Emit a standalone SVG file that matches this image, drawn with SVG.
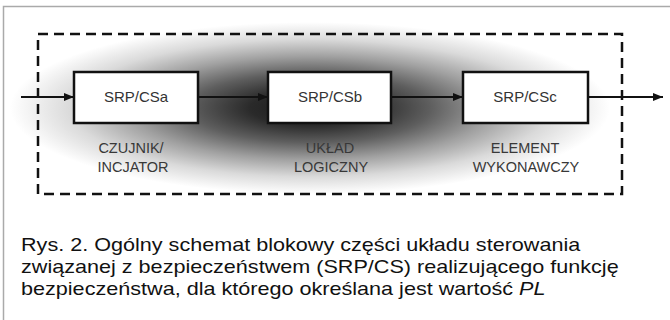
<svg xmlns="http://www.w3.org/2000/svg" width="670" height="320" viewBox="0 0 670 320">
<style>
.box{fill:#fff;stroke:#111;stroke-width:2.5}
.bl{font-family:"Liberation Sans",Arial,sans-serif;font-size:15px;fill:#333;text-anchor:middle}
.sl{font-family:"Liberation Sans",Arial,sans-serif;font-size:14.5px;fill:#383838;text-anchor:middle}
.cap{font-family:"Liberation Sans",Arial,sans-serif;font-size:18px;fill:#111}
.conn{stroke:#111;stroke-width:2;fill:none}
</style>
<defs>
<radialGradient id="sh" cx="310" cy="108" r="1" gradientUnits="userSpaceOnUse" gradientTransform="translate(310 108) scale(300 86) translate(-310 -108)">
<stop offset="0" stop-color="#181818"/>
<stop offset="0.2" stop-color="#2a2a2a"/>
<stop offset="0.4" stop-color="#5e5e5e"/>
<stop offset="0.6" stop-color="#a0a0a0"/>
<stop offset="0.8" stop-color="#dadada"/>
<stop offset="1" stop-color="#fff"/>
</radialGradient>
<marker id="ah" viewBox="0 0 10 8" refX="10" refY="4" markerWidth="10" markerHeight="8" markerUnits="userSpaceOnUse" orient="auto">
<path d="M0,0 L10,4 L0,8 Z" fill="#111"/>
</marker>
</defs>
<rect width="670" height="320" fill="#fff"/>
<path d="M3.5,320 V6.5 H670" fill="none" stroke="#aaa" stroke-width="1.5"/>
<ellipse cx="310" cy="108" rx="300" ry="86" fill="url(#sh)"/>
<rect x="38" y="34" width="584" height="160" fill="none" stroke="#111" stroke-width="2.5" stroke-dasharray="10 6"/>
<g id="connectors">
<line class="conn" x1="21" y1="97" x2="74" y2="97" marker-end="url(#ah)"/>
<line class="conn" x1="198" y1="97" x2="268" y2="97" marker-end="url(#ah)"/>
<line class="conn" x1="391" y1="97" x2="463" y2="97" marker-end="url(#ah)"/>
<line class="conn" x1="588" y1="97" x2="663" y2="97" marker-end="url(#ah)"/>
</g>
<g id="srpcsa">
<rect class="box" x="74" y="72" width="124" height="51"/>
<text class="bl" x="136" y="102">SRP/CSa</text>
<text class="sl" x="131" y="153">CZUJNIK/</text>
<text class="sl" x="133" y="172">INCJATOR</text>
</g>
<g id="srpcsb">
<rect class="box" x="268" y="72" width="123" height="51"/>
<text class="bl" x="330" y="102">SRP/CSb</text>
<text class="sl" x="330" y="153">UKŁAD</text>
<text class="sl" x="331" y="172">LOGICZNY</text>
</g>
<g id="srpcsc">
<rect class="box" x="463" y="72" width="125" height="51"/>
<text class="bl" x="525" y="102">SRP/CSc</text>
<text class="sl" x="525" y="153">ELEMENT</text>
<text class="sl" x="526" y="172">WYKONAWCZY</text>
</g>
<g id="caption" transform="translate(21 0) scale(1.2 1)">
<text class="cap" x="0" y="251">Rys. 2. Ogólny schemat blokowy części układu sterowania</text>
<text class="cap" x="0" y="273">związanej z bezpieczeństwem (SRP/CS) realizującego funkcję</text>
<text class="cap" x="0" y="295">bezpieczeństwa, dla którego określana jest wartość <tspan font-style="italic">PL</tspan></text>
</g>
</svg>
